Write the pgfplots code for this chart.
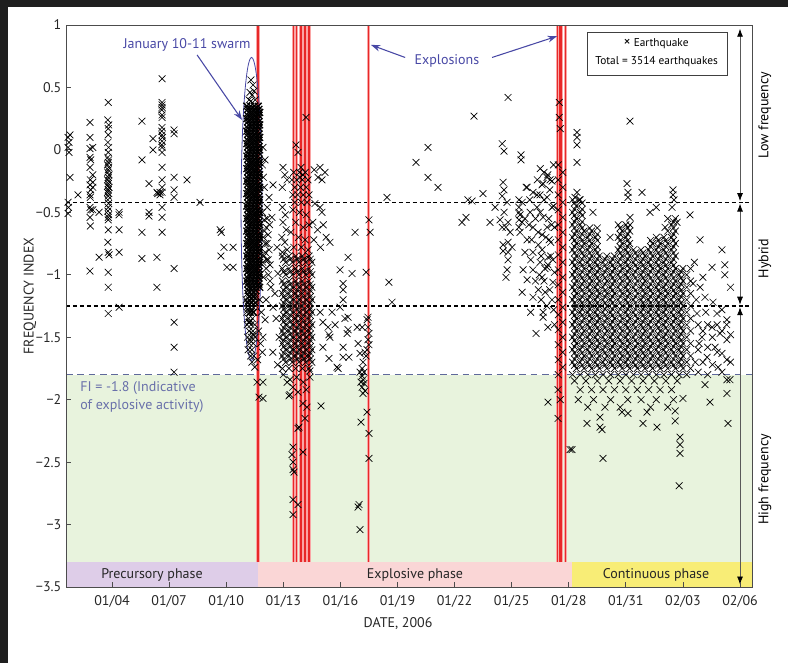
\documentclass[border=0pt]{standalone}
\usepackage{fontspec}
\setmainfont{PT Sans}
\usepackage{pgfplots}
\pgfplotsset{compat=1.18}
\usetikzlibrary{arrows.meta}

\definecolor{bg}{RGB}{232,243,221}
\definecolor{purp}{RGB}{222,205,232}
\definecolor{pinkb}{RGB}{250,214,214}
\definecolor{yel}{RGB}{248,237,118}
\definecolor{annot}{RGB}{72,72,165}
\definecolor{fitext}{RGB}{105,112,170}
\definecolor{fiblue}{RGB}{95,105,155}
\definecolor{exred}{RGB}{232,40,40}
\definecolor{exhalo}{RGB}{250,165,165}

\newcommand{\fs}{\fontsize{10.5}{13.5}\selectfont}
\newcommand{\fss}{\fontsize{8.5}{10}\selectfont}

\pgfplotsset{
  eq/.style={only marks, mark=x, mark size=3.6pt, black, mark options={line width=0.5pt}, forget plot},
  eqdense/.style={eq, mark options={line width=0.95pt}},
}

\begin{document}
\begin{tikzpicture}
\useasboundingbox (0pt,0pt) rectangle (591pt,497.25pt);
\fill[black!88] (0pt,492pt) rectangle (591pt,497.25pt);
\fill[black!88] (0pt,0pt) rectangle (6pt,497.25pt);
\begin{axis}[
  at={(49.5pt,57pt)}, anchor=south west,
  width=514.5pt, height=421.5pt, scale only axis,
  xmin=1.58, xmax=37.63, ymin=-3.5, ymax=1,
  axis on top, clip=false,
  axis line style={black!70, line width=0.7pt},
  tick align=inside, xtick pos=left, ytick pos=left,
  major tick length=3.5pt, tick style={black!70, line width=0.6pt},
  xtick={4,7,10,13,16,19,22,25,28,31,34,37},
  xticklabels={01/04,01/07,01/10,01/13,01/16,01/19,01/22,01/25,01/28,01/31,02/03,02/06},
  ytick={-3.5,-3,-2.5,-2,-1.5,-1,-0.5,0,0.5,1},
  yticklabels={−3.5,−3,−2.5,−2,−1.5,−1,−0.5,0,0.5,1},
  ticklabel style={font=\fs, text=black!85},
  xticklabel style={yshift=-3pt},
]
% backgrounds
\fill[bg] (axis cs:1.58,-3.3) rectangle (axis cs:37.63,-1.8);
\fill[purp] (axis cs:1.58,-3.5) rectangle (axis cs:11.672,-3.3);
\fill[pinkb] (axis cs:11.672,-3.5) rectangle (axis cs:28.17,-3.3);
\fill[yel] (axis cs:28.17,-3.5) rectangle (axis cs:37.63,-3.3);

% thresholds
\addplot[black, line width=1.1pt, dash pattern=on 3pt off 2.2pt, forget plot] coordinates {(1.58,-0.42) (37.63,-0.42)};
\addplot[black, line width=1.1pt, dash pattern=on 3pt off 2.2pt, forget plot] coordinates {(1.58,-1.25) (37.63,-1.25)};
\addplot[fiblue, line width=0.7pt, dash pattern=on 5pt off 3.5pt, forget plot] coordinates {(1.58,-1.8) (37.63,-1.8)};

% explosions
\pgfplotsinvokeforeach{11.672,13.53,13.70,13.93,14.14,14.35,17.468,27.40,27.50,27.59,27.84}{
  \addplot[exhalo, line width=2.6pt, forget plot] coordinates {(#1,-3.3) (#1,1)};
}
\pgfplotsinvokeforeach{11.672,13.53,13.70,13.93,14.14,14.35,17.468,27.40,27.50,27.59,27.84}{
  \addplot[exred, line width=1pt, forget plot] coordinates {(#1,-3.3) (#1,1)};
}

% precursory phase
\addplot[eq] coordinates {
(1.69,0.10)(1.74,0.06)(1.69,0.02)(1.74,-0.02)(1.79,0.12)(1.79,-0.22)(1.69,-0.42)(1.71,-0.46)(1.69,-0.51)(2.21,-0.36)
(2.84,0.22)(2.84,0.10)(2.84,0.01)(2.84,-0.06)(2.88,-0.08)(2.84,-0.14)(2.86,-0.24)(2.84,-0.28)(2.88,-0.32)(2.84,-0.36)
(2.86,-0.38)(2.84,-0.46)(2.88,-0.48)(2.84,-0.54)(2.86,-0.61)(2.84,-0.97)
(2.99,0.02)(2.99,-0.20)(2.99,-0.26)(2.99,-0.30)(2.99,-0.48)(3.32,-0.50)(3.32,-0.86)
(3.80,0.38)(3.78,0.24)(3.82,0.20)(3.80,0.17)(3.80,0.12)(3.78,0.06)(3.82,0.02)(3.80,-0.02)(3.78,-0.06)(3.82,-0.08)
(3.80,-0.10)(3.76,-0.12)(3.82,-0.14)(3.80,-0.16)(3.78,-0.18)(3.84,-0.20)(3.80,-0.22)(3.76,-0.24)(3.82,-0.25)(3.80,-0.27)
(3.78,-0.29)(3.84,-0.30)(3.80,-0.32)(3.76,-0.34)(3.82,-0.35)(3.80,-0.37)(3.78,-0.40)(3.82,-0.43)(3.80,-0.46)(3.78,-0.49)
(3.82,-0.52)(3.80,-0.54)(3.80,-0.56)(3.80,-0.64)(3.78,-0.74)(3.80,-0.82)(3.84,-0.84)(3.80,-0.98)(3.80,-1.10)(3.80,-1.31)
(4.37,-0.50)(4.37,-0.52)(4.37,-0.64)(4.37,-0.82)(4.37,-1.26)
(5.57,0.23)(5.57,-0.08)(5.57,-0.66)(5.57,-0.87)(5.94,-0.27)(5.94,-0.50)(5.94,-0.53)(6.15,0.09)(6.15,0.00)
(6.36,-0.34)(6.40,-0.35)(6.36,-0.86)(6.36,-1.10)(6.52,-0.34)(6.52,-0.36)
(6.63,0.57)(6.63,0.38)(6.63,0.36)(6.63,0.34)(6.61,0.32)(6.63,0.28)(6.63,0.26)(6.63,0.18)(6.61,0.15)(6.63,0.12)
(6.65,0.10)(6.63,0.07)(6.61,0.04)(6.63,0.02)(6.63,-0.02)(6.63,-0.14)(6.63,-0.24)(6.63,-0.30)(6.63,-0.34)(6.63,-0.46)
(6.63,-0.54)(6.63,-0.66)
(7.26,0.16)(7.26,0.13)(7.26,-0.22)(7.26,-0.32)(7.26,-0.38)(7.26,-0.95)(7.26,-1.38)(7.26,-1.58)(7.26,-1.78)
(7.94,-0.24)(8.62,-0.42)(9.68,-0.64)(9.74,-0.66)(9.88,-0.78)(9.72,-0.85)(10.04,-0.94)(10.36,-0.78)(10.36,-0.94)
};

% January 10-11 swarm, core
\addplot[eqdense] coordinates {
(11.08,0.35)(11.28,0.35)(11.48,0.35)(11.68,0.35)(11.18,0.30)(11.38,0.30)(11.58,0.30)(11.76,0.30)
(11.08,0.25)(11.28,0.25)(11.48,0.25)(11.68,0.25)(11.18,0.20)(11.38,0.20)(11.58,0.20)(11.76,0.20)
(11.08,0.15)(11.28,0.15)(11.48,0.15)(11.68,0.15)(11.18,0.10)(11.38,0.10)(11.58,0.10)(11.76,0.10)
(11.08,0.05)(11.28,0.05)(11.48,0.05)(11.68,0.05)(11.18,0.00)(11.38,0.00)(11.58,0.00)(11.76,0.00)
(11.08,-0.05)(11.28,-0.05)(11.48,-0.05)(11.68,-0.05)(11.18,-0.10)(11.38,-0.10)(11.58,-0.10)(11.76,-0.10)
(11.08,-0.15)(11.28,-0.15)(11.48,-0.15)(11.68,-0.15)(11.18,-0.20)(11.38,-0.20)(11.58,-0.20)(11.76,-0.20)
(11.08,-0.25)(11.28,-0.25)(11.48,-0.25)(11.68,-0.25)(11.18,-0.30)(11.38,-0.30)(11.58,-0.30)(11.76,-0.30)
(11.08,-0.35)(11.28,-0.35)(11.48,-0.35)(11.68,-0.35)(11.18,-0.40)(11.38,-0.40)(11.58,-0.40)(11.76,-0.40)
(11.08,-0.45)(11.28,-0.45)(11.48,-0.45)(11.68,-0.45)(11.18,-0.50)(11.38,-0.50)(11.58,-0.50)(11.76,-0.50)
(11.08,-0.55)(11.28,-0.55)(11.48,-0.55)(11.68,-0.55)(11.18,-0.60)(11.38,-0.60)(11.58,-0.60)(11.76,-0.60)
(11.08,-0.65)(11.28,-0.65)(11.48,-0.65)(11.68,-0.65)(11.18,-0.70)(11.38,-0.70)(11.58,-0.70)(11.76,-0.70)
(11.08,-0.75)(11.28,-0.75)(11.48,-0.75)(11.68,-0.75)(11.18,-0.80)(11.38,-0.80)(11.58,-0.80)(11.76,-0.80)
(11.08,-0.85)(11.28,-0.85)(11.48,-0.85)(11.68,-0.85)(11.18,-0.90)(11.38,-0.90)(11.58,-0.90)(11.76,-0.90)
(11.08,-0.95)(11.28,-0.95)(11.48,-0.95)(11.68,-0.95)(11.18,-1.00)(11.38,-1.00)(11.58,-1.00)(11.76,-1.00)
(11.08,-1.05)(11.28,-1.05)(11.48,-1.05)(11.68,-1.05)(11.18,-1.10)(11.38,-1.10)(11.58,-1.10)(11.76,-1.10)
(11.13,0.325)(11.33,0.325)(11.53,0.325)(11.72,0.325)(11.13,0.275)(11.33,0.275)(11.53,0.275)(11.72,0.275)
(11.13,0.225)(11.33,0.225)(11.53,0.225)(11.72,0.225)(11.13,0.175)(11.33,0.175)(11.53,0.175)(11.72,0.175)
(11.13,0.125)(11.33,0.125)(11.53,0.125)(11.72,0.125)(11.13,0.075)(11.33,0.075)(11.53,0.075)(11.72,0.075)
(11.13,0.025)(11.33,0.025)(11.53,0.025)(11.72,0.025)(11.13,-0.025)(11.33,-0.025)(11.53,-0.025)(11.72,-0.025)
(11.13,-0.075)(11.33,-0.075)(11.53,-0.075)(11.72,-0.075)(11.13,-0.125)(11.33,-0.125)(11.53,-0.125)(11.72,-0.125)
(11.13,-0.175)(11.33,-0.175)(11.53,-0.175)(11.72,-0.175)(11.13,-0.225)(11.33,-0.225)(11.53,-0.225)(11.72,-0.225)
(11.13,-0.275)(11.33,-0.275)(11.53,-0.275)(11.72,-0.275)(11.13,-0.325)(11.33,-0.325)(11.53,-0.325)(11.72,-0.325)
(11.13,-0.375)(11.33,-0.375)(11.53,-0.375)(11.72,-0.375)(11.13,-0.425)(11.33,-0.425)(11.53,-0.425)(11.72,-0.425)
(11.13,-0.475)(11.33,-0.475)(11.53,-0.475)(11.72,-0.475)(11.13,-0.525)(11.33,-0.525)(11.53,-0.525)(11.72,-0.525)
(11.13,-0.575)(11.33,-0.575)(11.53,-0.575)(11.72,-0.575)(11.13,-0.625)(11.33,-0.625)(11.53,-0.625)(11.72,-0.625)
(11.13,-0.675)(11.33,-0.675)(11.53,-0.675)(11.72,-0.675)(11.13,-0.725)(11.33,-0.725)(11.53,-0.725)(11.72,-0.725)
(11.13,-0.775)(11.33,-0.775)(11.53,-0.775)(11.72,-0.775)(11.13,-0.825)(11.33,-0.825)(11.53,-0.825)(11.72,-0.825)
(11.13,-0.875)(11.33,-0.875)(11.53,-0.875)(11.72,-0.875)(11.13,-0.925)(11.33,-0.925)(11.53,-0.925)(11.72,-0.925)
(11.13,-0.975)(11.33,-0.975)(11.53,-0.975)(11.72,-0.975)(11.13,-1.025)(11.33,-1.025)(11.53,-1.025)(11.72,-1.025)
(11.13,-1.075)(11.33,-1.075)(11.53,-1.075)(11.72,-1.075)
(11.15,-1.125)(11.35,-1.125)(11.55,-1.125)(11.22,-1.175)(11.45,-1.175)(11.12,-1.225)(11.32,-1.225)(11.52,-1.225)
(11.25,-1.30)(11.42,-1.30)(11.20,-1.38)
};

% January 10-11 swarm, edges
\addplot[eq] coordinates {
(11.30,0.56)(11.41,0.52)(11.25,0.46)(11.36,0.44)(11.46,0.47)(11.20,0.40)(11.30,0.39)(11.52,0.40)
(11.12,-1.15)(11.32,-1.15)(11.52,-1.15)(11.05,-1.20)(11.22,-1.20)(11.42,-1.20)(11.75,-1.20)
(11.15,-1.25)(11.35,-1.25)(11.55,-1.25)(11.08,-1.30)(11.28,-1.30)(11.45,-1.30)(11.85,-1.30)
(11.18,-1.35)(11.38,-1.35)(11.10,-1.40)(11.30,-1.40)(11.50,-1.40)(11.20,-1.45)(11.40,-1.45)(11.70,-1.45)
(11.12,-1.50)(11.32,-1.50)(11.52,-1.50)(11.22,-1.55)(11.42,-1.55)(11.80,-1.55)(11.15,-1.60)(11.35,-1.60)
(11.28,-1.65)(11.45,-1.65)(11.90,-1.62)(11.65,-1.68)(11.35,-1.70)(11.50,-1.74)
(11.18,-1.175)(11.38,-1.175)(11.58,-1.175)(11.13,-1.275)(11.33,-1.275)(11.25,-1.375)(11.42,-1.475)(11.25,-1.525)
(11.90,-0.50)(12.00,-0.56)(12.10,-0.62)(12.20,-0.68)(11.95,-0.70)(12.15,-0.75)(12.25,-0.80)(12.05,-0.82)
(12.20,-0.88)(11.92,-0.90)(12.10,-0.95)(12.22,-1.00)(11.95,-1.02)(12.28,-0.60)(12.15,-0.55)(12.00,-0.65)
(12.05,-0.75)(11.98,-0.85)(12.12,-0.88)(12.30,-0.92)
(11.93,0.02)(12.04,-0.08)(12.46,-0.28)(12.25,-0.38)(12.15,-0.46)(12.40,-0.54)(11.95,-0.22)(12.00,-0.30)
(11.90,-0.12)(12.35,-1.10)(12.10,-1.20)(12.46,-1.26)(12.04,-1.36)(11.93,-1.50)
(11.62,-1.86)(11.93,-1.86)(11.72,-1.98)(11.93,-1.99)
(12.67,-0.78)(12.30,-1.05)(12.72,-0.99)(12.56,-1.15)(12.62,-1.35)(12.78,-1.50)(12.45,-1.62)(12.70,-1.72)
};

% January 13-17
\addplot[eq] coordinates {
(13.67,0.04)(13.77,-0.02)(14.19,0.26)(13.93,-0.14)(14.03,-0.20)(13.88,-0.22)
(13.55,-0.18)(13.85,-0.18)(14.15,-0.18)(13.45,-0.24)(13.70,-0.24)(14.00,-0.24)(14.30,-0.24)
(13.60,-0.30)(13.90,-0.30)(14.20,-0.30)(13.50,-0.36)(13.75,-0.36)(14.05,-0.36)(14.35,-0.36)
(13.60,-0.42)(13.95,-0.42)(14.25,-0.42)
(12.98,-0.14)(13.08,-0.20)(13.20,-0.24)(12.95,-0.30)
(14.62,-0.16)(14.93,-0.14)(15.19,-0.18)(14.82,-0.22)(15.03,-0.24)(14.66,-0.43)(14.93,-0.46)(15.03,-0.50)
(12.95,-0.46)(13.10,-0.52)(12.98,-0.58)(13.15,-0.64)(12.92,-0.70)(13.08,-0.74)(13.20,-0.80)(12.95,-0.82)
(13.50,-0.48)(13.85,-0.50)(14.20,-0.52)(13.65,-0.58)(14.05,-0.62)(14.35,-0.60)(13.40,-0.66)(13.80,-0.70)
(14.15,-0.72)(13.55,-0.78)(13.95,-0.78)(14.30,-0.80)
(14.55,-0.58)(14.80,-0.64)(15.10,-0.60)(14.60,-0.72)(14.95,-0.78)(15.25,-0.70)
(12.95,-0.85)(13.30,-0.85)(13.65,-0.85)(14.00,-0.85)(14.35,-0.85)
(13.12,-0.90)(13.47,-0.90)(13.82,-0.90)(14.17,-0.90)(14.50,-0.90)
(12.95,-0.95)(13.30,-0.95)(13.65,-0.95)(14.00,-0.95)(14.35,-0.95)
(13.12,-1.00)(13.47,-1.00)(13.82,-1.00)(14.17,-1.00)(14.50,-1.00)
(12.95,-1.05)(13.30,-1.05)(13.65,-1.05)(14.00,-1.05)(14.35,-1.05)
(13.12,-1.10)(13.47,-1.10)(13.82,-1.10)(14.17,-1.10)(14.50,-1.10)
(12.95,-1.15)(13.30,-1.15)(13.65,-1.15)(14.00,-1.15)(14.35,-1.15)
(13.12,-1.20)(13.47,-1.20)(13.82,-1.20)(14.17,-1.20)(14.50,-1.20)
(12.95,-1.25)(13.30,-1.25)(13.65,-1.25)(14.00,-1.25)(14.35,-1.25)
(13.12,-1.30)(13.47,-1.30)(13.82,-1.30)(14.17,-1.30)(14.50,-1.30)
(12.95,-1.35)(13.30,-1.35)(13.65,-1.35)(14.00,-1.35)(14.35,-1.35)
(13.12,-1.40)(13.47,-1.40)(13.82,-1.40)(14.17,-1.40)(14.50,-1.40)
(12.95,-1.45)(13.30,-1.45)(13.65,-1.45)(14.00,-1.45)(14.35,-1.45)
(13.12,-1.50)(13.47,-1.50)(13.82,-1.50)(14.17,-1.50)(14.50,-1.50)
(12.95,-1.55)(13.30,-1.55)(13.65,-1.55)(14.00,-1.55)(14.35,-1.55)
(13.12,-1.60)(13.47,-1.60)(13.82,-1.60)(14.17,-1.60)(14.50,-1.60)
(12.95,-1.65)(13.30,-1.65)(13.65,-1.65)(14.00,-1.65)(14.35,-1.65)
(13.12,-1.70)(13.47,-1.70)(13.82,-1.70)(14.17,-1.70)(14.50,-1.70)
(12.95,-1.75)(13.30,-1.75)(13.65,-1.75)(14.00,-1.75)(14.35,-1.75)
(13.02,-0.875)(13.38,-0.875)(13.73,-0.875)(14.08,-0.875)(14.42,-0.875)
(13.02,-0.975)(13.38,-0.975)(13.73,-0.975)(14.08,-0.975)(14.42,-0.975)
(13.02,-1.075)(13.38,-1.075)(13.73,-1.075)(14.08,-1.075)(14.42,-1.075)
(13.02,-1.125)(13.38,-1.125)(13.73,-1.125)(14.08,-1.125)(14.42,-1.125)
(13.02,-1.175)(13.38,-1.175)(13.73,-1.175)(14.08,-1.175)(14.42,-1.175)
(13.02,-1.225)(13.38,-1.225)(13.73,-1.225)(14.08,-1.225)(14.42,-1.225)
(13.02,-1.275)(13.38,-1.275)(13.73,-1.275)(14.08,-1.275)(14.42,-1.275)
(13.02,-1.325)(13.38,-1.325)(13.73,-1.325)(14.08,-1.325)(14.42,-1.325)
(13.02,-1.375)(13.38,-1.375)(13.73,-1.375)(14.08,-1.375)(14.42,-1.375)
(13.02,-1.425)(13.38,-1.425)(13.73,-1.425)(14.08,-1.425)(14.42,-1.425)
(13.02,-1.475)(13.38,-1.475)(13.73,-1.475)(14.08,-1.475)(14.42,-1.475)
(13.02,-1.525)(13.38,-1.525)(13.73,-1.525)(14.08,-1.525)(14.42,-1.525)
(13.02,-1.575)(13.38,-1.575)(13.73,-1.575)(14.08,-1.575)(14.42,-1.575)
(13.02,-1.625)(13.38,-1.625)(13.73,-1.625)(14.08,-1.625)(14.42,-1.625)
(13.02,-1.675)(13.38,-1.675)(13.73,-1.675)(14.08,-1.675)(14.42,-1.675)
(13.00,-1.80)(13.35,-1.84)(13.70,-1.82)(14.05,-1.86)(14.40,-1.82)(13.50,-1.90)(14.20,-1.92)
(15.45,-0.74)(16.40,-0.86)(16.77,-0.66)(15.98,-0.96)(16.14,-1.12)(16.14,-1.20)(16.40,-1.34)(16.40,-1.44)
(16.88,-1.42)(16.93,-1.55)(17.03,-1.63)(16.14,-1.58)(15.45,-1.50)(15.08,-1.58)(15.35,-1.42)(16.61,-0.99)
(14.93,-1.30)(15.56,-1.30)(15.98,-1.26)(15.08,-1.38)(15.72,-1.40)(16.24,-1.35)(15.40,-1.48)(16.35,-1.47)
(16.14,-1.66)(15.40,-1.67)(15.88,-1.75)(16.45,-1.66)(14.40,-1.77)(15.82,-1.74)(14.98,-2.05)(16.14,-1.07)
(13.30,-1.97)(13.77,-1.94)(14.03,-2.03)(14.24,-2.06)(14.14,-2.15)(13.77,-2.23)(13.82,-2.22)(14.03,-2.42)
(13.51,-2.38)(13.46,-2.44)(13.51,-2.50)(13.51,-2.56)(13.56,-2.58)(13.51,-2.80)(13.77,-2.84)(13.51,-2.92)
(13.35,-1.96)(13.20,-1.86)
(17.50,-0.56)(17.56,-0.66)(17.35,-0.98)(17.45,-1.34)(17.45,-1.42)(17.50,-1.47)(17.45,-1.52)(17.50,-1.56)
(17.40,-1.60)(17.14,-1.42)(17.40,-1.36)(17.29,-1.62)(17.35,-1.65)
(17.19,-1.70)(17.14,-1.75)(17.24,-1.78)(17.14,-1.81)(17.19,-1.84)(17.24,-1.87)(17.14,-1.90)(17.29,-1.93)
(17.19,-1.95)(17.03,-1.78)(17.08,-1.86)
(17.40,-2.10)(17.08,-2.18)(17.50,-2.27)(17.50,-2.47)(16.93,-2.86)(16.98,-2.84)(17.03,-3.04)
};

% January 18-28
\addplot[eq] coordinates {
(18.45,-0.38)(18.55,-1.06)(18.71,-1.22)(19.97,-0.10)(20.60,0.02)(20.60,-0.22)(21.13,-0.30)(23.02,0.27)
(24.81,0.42)(24.50,0.05)(24.60,-0.01)(25.49,-0.04)(25.49,-0.08)(22.70,-0.40)
(22.39,-0.58)(22.60,-0.54)(22.92,-0.41)(23.49,-0.35)(23.86,-0.58)(24.13,-0.46)(24.55,-0.26)(24.60,-0.32)
(24.50,-0.37)(24.76,-0.42)(24.60,-0.50)(24.81,-0.58)(24.50,-0.62)(24.55,-0.81)(24.81,-0.82)(24.81,-0.88)
(24.76,-0.96)(24.70,-1.02)(24.39,-0.56)(24.70,-0.62)(24.92,-0.66)(24.81,-0.74)(24.55,-0.76)(25.02,-0.78)
(26.70,-0.18)(26.86,-0.22)(27.12,-0.25)(25.76,-0.30)(26.12,-0.34)(26.49,-0.36)(26.86,-0.38)(25.55,-0.42)
(26.33,-0.46)(27.12,-0.46)(25.44,-0.52)(25.97,-0.50)(26.65,-0.54)(25.55,-0.58)(26.12,-0.62)(26.86,-0.62)
(25.44,-0.66)(25.81,-0.72)(26.39,-0.66)(26.97,-0.72)(25.70,-0.82)(26.12,-0.82)(26.60,-0.80)(26.91,-0.86)
(27.17,-0.88)(26.00,-0.88)(26.49,-0.90)(26.86,-0.94)(25.60,-0.96)(26.12,-0.96)(26.60,-1.02)(25.81,-1.04)
(27.17,-1.06)(25.55,-1.14)(26.12,-1.18)(26.76,-1.14)(26.00,-1.30)(26.65,-1.34)(26.28,-1.47)(27.12,-1.20)
(25.38,-0.40)(25.38,-0.46)(25.38,-0.50)(25.38,-0.56)(25.38,-0.62)
(26.65,-0.27)(27.02,-0.24)(25.81,-0.30)(26.33,-0.36)
(26.50,-0.15)(26.90,-0.20)(27.20,-0.12)(26.60,-0.28)(27.00,-0.32)(26.70,-0.40)(27.20,-0.45)(26.50,-0.50)
(26.95,-0.55)(27.25,-0.62)(26.60,-0.68)(27.05,-0.74)(26.55,-0.85)(26.90,-0.92)(27.25,-0.98)(26.70,-1.05)
(27.00,-1.12)(26.55,-1.20)(26.65,-1.30)(27.20,-1.28)(26.90,-1.42)
(26.25,-0.55)(25.90,-0.60)(26.40,-0.76)(26.80,-0.70)(26.25,-1.05)(26.40,-1.12)(25.95,-0.40)(26.35,-0.24)
(27.10,-0.60)(26.75,-0.95)(25.70,-0.55)(26.05,-0.72)(27.05,-0.85)(26.45,-1.00)(26.85,-1.25)(27.25,-1.40)
(27.50,0.38)(27.50,0.26)(27.55,0.17)
(27.45,-0.12)(27.45,-0.24)(27.45,-0.36)(27.45,-0.48)(27.45,-0.60)(27.45,-0.72)(27.45,-0.84)(27.45,-0.96)
(27.45,-1.08)(27.45,-1.20)(27.45,-1.32)(27.45,-1.44)(27.45,-1.56)(27.45,-1.68)(27.45,-1.80)
(27.68,-0.18)(27.68,-0.30)(27.68,-0.42)(27.68,-0.54)(27.68,-0.66)(27.68,-0.78)(27.68,-0.90)(27.68,-1.02)
(27.68,-1.14)(27.68,-1.26)(27.68,-1.38)(27.68,-1.50)(27.68,-1.62)(27.68,-1.74)
(27.44,-1.92)(27.55,-2.00)(27.44,-2.15)(26.91,-2.02)
};

% continuous phase
\addplot[eq] coordinates {
(28.43,0.14)(28.43,0.10)(28.43,0.04)(28.43,-0.10)(28.43,-0.34)(28.33,-0.38)(28.55,-0.40)(31.06,-0.27)
(31.11,-0.34)(31.11,-0.38)(31.85,-0.34)(33.48,-0.32)(33.48,-0.36)(33.53,-0.40)(33.43,-0.46)(34.37,-0.52)
(33.06,-0.62)(33.69,-0.58)(32.27,-0.50)(32.60,-0.46)(31.22,0.23)(29.27,-0.50)(30.17,-0.70)(31.22,-0.54)
(31.22,-0.60)(34.90,-0.72)(36.05,-0.80)
(28.2,-0.40)(28.6,-0.40)(28.4,-0.45)(28.2,-0.50)(28.6,-0.50)(28.4,-0.55)(33.2,-0.55)(33.6,-0.55)
(28.2,-0.60)(28.6,-0.60)(30.6,-0.60)(31.0,-0.60)(33.4,-0.60)
(28.4,-0.65)(28.8,-0.65)(29.2,-0.65)(30.8,-0.65)(31.2,-0.65)(33.2,-0.65)(33.6,-0.65)
(28.2,-0.70)(28.6,-0.70)(29.0,-0.70)(29.4,-0.70)(30.6,-0.70)(31.0,-0.70)(32.6,-0.70)(33.0,-0.70)(33.4,-0.70)
(28.4,-0.75)(28.8,-0.75)(29.2,-0.75)(30.8,-0.75)(31.2,-0.75)(32.4,-0.75)(32.8,-0.75)(33.2,-0.75)(33.6,-0.75)
(28.2,-0.80)(28.6,-0.80)(29.0,-0.80)(29.4,-0.80)(30.6,-0.80)(31.0,-0.80)(31.4,-0.80)(31.8,-0.80)(32.2,-0.80)
(32.6,-0.80)(33.0,-0.80)(33.4,-0.80)
(28.4,-0.85)(28.8,-0.85)(29.2,-0.85)(29.6,-0.85)(30.0,-0.85)(30.4,-0.85)(30.8,-0.85)(31.2,-0.85)(31.6,-0.85)
(32.0,-0.85)(32.4,-0.85)(32.8,-0.85)(33.2,-0.85)(33.6,-0.85)
(28.2,-0.90)(28.6,-0.90)(29.0,-0.90)(29.4,-0.90)(29.8,-0.90)(30.2,-0.90)(30.6,-0.90)(31.0,-0.90)(31.4,-0.90)
(31.8,-0.90)(32.2,-0.90)(32.6,-0.90)(33.0,-0.90)(33.4,-0.90)
(28.4,-0.95)(28.8,-0.95)(29.2,-0.95)(29.6,-0.95)(30.0,-0.95)(30.4,-0.95)(30.8,-0.95)(31.2,-0.95)(31.6,-0.95)
(32.0,-0.95)(32.4,-0.95)(32.8,-0.95)(33.2,-0.95)(33.6,-0.95)(34.0,-0.95)(34.4,-0.95)
(28.2,-1.00)(28.6,-1.00)(29.0,-1.00)(29.4,-1.00)(29.8,-1.00)(30.2,-1.00)(30.6,-1.00)(31.0,-1.00)(31.4,-1.00)
(31.8,-1.00)(32.2,-1.00)(32.6,-1.00)(33.0,-1.00)(33.4,-1.00)(33.8,-1.00)(34.2,-1.00)
(28.4,-1.05)(28.8,-1.05)(29.2,-1.05)(29.6,-1.05)(30.0,-1.05)(30.4,-1.05)(30.8,-1.05)(31.2,-1.05)(31.6,-1.05)
(32.0,-1.05)(32.4,-1.05)(32.8,-1.05)(33.2,-1.05)(33.6,-1.05)(34.0,-1.05)(34.4,-1.05)
(28.2,-1.10)(28.6,-1.10)(29.0,-1.10)(29.4,-1.10)(29.8,-1.10)(30.2,-1.10)(30.6,-1.10)(31.0,-1.10)(31.4,-1.10)
(31.8,-1.10)(32.2,-1.10)(32.6,-1.10)(33.0,-1.10)(33.4,-1.10)(33.8,-1.10)(34.2,-1.10)
(28.4,-1.15)(28.8,-1.15)(29.2,-1.15)(29.6,-1.15)(30.0,-1.15)(30.4,-1.15)(30.8,-1.15)(31.2,-1.15)(31.6,-1.15)
(32.0,-1.15)(32.4,-1.15)(32.8,-1.15)(33.2,-1.15)(33.6,-1.15)(34.0,-1.15)(34.4,-1.15)
(28.2,-1.20)(28.6,-1.20)(29.0,-1.20)(29.4,-1.20)(29.8,-1.20)(30.2,-1.20)(30.6,-1.20)(31.0,-1.20)(31.4,-1.20)
(31.8,-1.20)(32.2,-1.20)(32.6,-1.20)(33.0,-1.20)(33.4,-1.20)(33.8,-1.20)(34.2,-1.20)
(28.4,-1.25)(28.8,-1.25)(29.2,-1.25)(29.6,-1.25)(30.0,-1.25)(30.4,-1.25)(30.8,-1.25)(31.2,-1.25)(31.6,-1.25)
(32.0,-1.25)(32.4,-1.25)(32.8,-1.25)(33.2,-1.25)(33.6,-1.25)(34.0,-1.25)(34.4,-1.25)
(28.2,-1.30)(28.6,-1.30)(29.0,-1.30)(29.4,-1.30)(29.8,-1.30)(30.2,-1.30)(30.6,-1.30)(31.0,-1.30)(31.4,-1.30)
(31.8,-1.30)(32.2,-1.30)(32.6,-1.30)(33.0,-1.30)(33.4,-1.30)(33.8,-1.30)(34.2,-1.30)
(28.4,-1.35)(28.8,-1.35)(29.2,-1.35)(29.6,-1.35)(30.0,-1.35)(30.4,-1.35)(30.8,-1.35)(31.2,-1.35)(31.6,-1.35)
(32.0,-1.35)(32.4,-1.35)(32.8,-1.35)(33.2,-1.35)(33.6,-1.35)(34.0,-1.35)(34.4,-1.35)
(28.2,-1.40)(28.6,-1.40)(29.0,-1.40)(29.4,-1.40)(29.8,-1.40)(30.2,-1.40)(30.6,-1.40)(31.0,-1.40)(31.4,-1.40)
(31.8,-1.40)(32.2,-1.40)(32.6,-1.40)(33.0,-1.40)(33.4,-1.40)(33.8,-1.40)(34.2,-1.40)
(28.4,-1.45)(28.8,-1.45)(29.2,-1.45)(29.6,-1.45)(30.0,-1.45)(30.4,-1.45)(30.8,-1.45)(31.2,-1.45)(31.6,-1.45)
(32.0,-1.45)(32.4,-1.45)(32.8,-1.45)(33.2,-1.45)(33.6,-1.45)(34.0,-1.45)(34.4,-1.45)
(28.2,-1.50)(28.6,-1.50)(29.0,-1.50)(29.4,-1.50)(29.8,-1.50)(30.2,-1.50)(30.6,-1.50)(31.0,-1.50)(31.4,-1.50)
(31.8,-1.50)(32.2,-1.50)(32.6,-1.50)(33.0,-1.50)(33.4,-1.50)(33.8,-1.50)(34.2,-1.50)
(28.4,-1.55)(28.8,-1.55)(29.2,-1.55)(29.6,-1.55)(30.0,-1.55)(30.4,-1.55)(30.8,-1.55)(31.2,-1.55)(31.6,-1.55)
(32.0,-1.55)(32.4,-1.55)(32.8,-1.55)(33.2,-1.55)(33.6,-1.55)(34.0,-1.55)(34.4,-1.55)
(28.2,-1.60)(28.6,-1.60)(29.0,-1.60)(29.4,-1.60)(29.8,-1.60)(30.2,-1.60)(30.6,-1.60)(31.0,-1.60)(31.4,-1.60)
(31.8,-1.60)(32.2,-1.60)(32.6,-1.60)(33.0,-1.60)(33.4,-1.60)(33.8,-1.60)(34.2,-1.60)
(28.4,-1.65)(28.8,-1.65)(29.2,-1.65)(29.6,-1.65)(30.0,-1.65)(30.4,-1.65)(30.8,-1.65)(31.2,-1.65)(31.6,-1.65)
(32.0,-1.65)(32.4,-1.65)(32.8,-1.65)(33.2,-1.65)(33.6,-1.65)(34.0,-1.65)(34.4,-1.65)
(28.2,-1.70)(28.6,-1.70)(29.0,-1.70)(29.4,-1.70)(29.8,-1.70)(30.2,-1.70)(30.6,-1.70)(31.0,-1.70)(31.4,-1.70)
(31.8,-1.70)(32.2,-1.70)(32.6,-1.70)(33.0,-1.70)(33.4,-1.70)(33.8,-1.70)(34.2,-1.70)
(28.4,-1.75)(28.8,-1.75)(29.2,-1.75)(29.6,-1.75)(30.0,-1.75)(30.4,-1.75)(30.8,-1.75)(31.2,-1.75)(31.6,-1.75)
(32.0,-1.75)(32.4,-1.75)(32.8,-1.75)(33.2,-1.75)(33.6,-1.75)(34.0,-1.75)(34.4,-1.75)
(28.2,-1.80)(28.6,-1.80)(29.0,-1.80)(29.4,-1.80)(29.8,-1.80)(30.2,-1.80)(30.6,-1.80)(31.0,-1.80)(31.4,-1.80)
(31.8,-1.80)(32.2,-1.80)(32.6,-1.80)(33.0,-1.80)(33.4,-1.80)(33.8,-1.80)(34.2,-1.80)
(36.20,-0.92)(36.20,-1.00)(35.53,-0.94)(35.05,-1.02)(34.53,-1.07)(35.16,-1.18)(35.58,-1.22)(35.79,-1.31)
(36.05,-1.28)(36.31,-1.36)(35.53,-1.42)(35.95,-1.47)(36.31,-1.52)(35.69,-1.58)(36.05,-1.63)(36.31,-1.68)
(35.85,-1.74)(34.74,-1.31)(35.27,-1.66)(36.31,-1.84)(36.05,-1.78)(35.00,-1.50)(34.90,-1.10)(36.50,-1.10)
(34.80,-1.40)(35.30,-1.40)(35.80,-1.40)(36.30,-1.40)(35.05,-1.45)(35.55,-1.50)(36.05,-1.45)(36.50,-1.48)
(34.80,-1.60)(35.30,-1.58)(35.80,-1.62)(35.05,-1.70)(35.55,-1.72)(36.50,-1.70)(34.80,-1.78)(35.30,-1.80)
(34.70,-1.20)(34.85,-1.55)(34.65,-1.70)(35.20,-1.30)(34.60,-0.90)
(28.3,-1.85)(28.9,-1.85)(29.5,-1.85)(30.1,-1.85)(30.7,-1.85)(31.3,-1.85)(31.9,-1.85)(32.5,-1.85)(33.1,-1.85)(33.7,-1.85)
(28.6,-1.92)(29.2,-1.92)(29.8,-1.92)(30.4,-1.92)(31.0,-1.92)(31.6,-1.92)(32.2,-1.92)(32.8,-1.92)(33.4,-1.92)
(28.5,-2.00)(29.3,-2.00)(30.2,-2.00)(31.1,-2.00)(31.8,-2.00)(32.6,-2.00)(33.5,-2.00)
(29.0,-2.06)(29.9,-2.06)(30.7,-2.06)(32.3,-2.06)(33.2,-2.06)
(28.17,-2.40)(28.96,-2.19)(29.64,-2.22)(29.75,-2.24)(29.80,-2.47)(29.64,-2.14)(30.80,-2.10)(31.11,-2.11)
(31.90,-2.19)(32.11,-2.10)(32.64,-2.22)(33.59,-2.09)(33.59,-2.17)(33.85,-2.30)(33.85,-2.36)(33.85,-2.43)
(33.80,-2.69)(34.00,-1.99)(35.16,-1.88)(35.42,-2.02)(36.31,-1.95)(36.37,-2.19)(36.47,-1.84)(28.07,-2.40)
};

% continuous phase, densest part
\addplot[eq] coordinates {
(28.3,-0.425)(28.7,-0.425)(28.3,-0.475)(28.7,-0.475)(28.3,-0.525)(28.7,-0.525)(28.3,-0.575)(28.7,-0.575)(33.5,-0.575)
(28.3,-0.625)(28.7,-0.625)(29.1,-0.625)(29.5,-0.625)(30.7,-0.625)(31.1,-0.625)(33.5,-0.625)
(28.3,-0.675)(28.7,-0.675)(29.1,-0.675)(29.5,-0.675)(30.7,-0.675)(31.1,-0.675)(33.5,-0.675)
(28.3,-0.725)(28.7,-0.725)(29.1,-0.725)(29.5,-0.725)(30.7,-0.725)(31.1,-0.725)(32.3,-0.725)(32.7,-0.725)(33.1,-0.725)(33.5,-0.725)
(28.3,-0.775)(28.7,-0.775)(29.1,-0.775)(29.5,-0.775)(30.7,-0.775)(31.1,-0.775)(32.3,-0.775)(32.7,-0.775)(33.1,-0.775)(33.5,-0.775)
(28.3,-0.825)(28.7,-0.825)(29.1,-0.825)(29.5,-0.825)(30.7,-0.825)(31.1,-0.825)(31.5,-0.825)(31.9,-0.825)(32.3,-0.825)(32.7,-0.825)(33.1,-0.825)(33.5,-0.825)
(28.3,-0.875)(28.7,-0.875)(29.1,-0.875)(29.5,-0.875)(29.9,-0.875)(30.3,-0.875)(30.7,-0.875)(31.1,-0.875)(31.5,-0.875)(31.9,-0.875)(32.3,-0.875)(32.7,-0.875)(33.1,-0.875)(33.5,-0.875)
(28.3,-0.925)(28.7,-0.925)(29.1,-0.925)(29.5,-0.925)(29.9,-0.925)(30.3,-0.925)(30.7,-0.925)(31.1,-0.925)(31.5,-0.925)(31.9,-0.925)(32.3,-0.925)(32.7,-0.925)(33.1,-0.925)(33.5,-0.925)
(28.3,-0.975)(28.7,-0.975)(29.1,-0.975)(29.5,-0.975)(29.9,-0.975)(30.3,-0.975)(30.7,-0.975)(31.1,-0.975)(31.5,-0.975)(31.9,-0.975)(32.3,-0.975)(32.7,-0.975)(33.1,-0.975)(33.5,-0.975)(33.9,-0.975)
(28.3,-1.025)(28.7,-1.025)(29.1,-1.025)(29.5,-1.025)(29.9,-1.025)(30.3,-1.025)(30.7,-1.025)(31.1,-1.025)(31.5,-1.025)(31.9,-1.025)(32.3,-1.025)(32.7,-1.025)(33.1,-1.025)(33.5,-1.025)(33.9,-1.025)
(28.3,-1.075)(28.7,-1.075)(29.1,-1.075)(29.5,-1.075)(29.9,-1.075)(30.3,-1.075)(30.7,-1.075)(31.1,-1.075)(31.5,-1.075)(31.9,-1.075)(32.3,-1.075)(32.7,-1.075)(33.1,-1.075)(33.5,-1.075)(33.9,-1.075)
(28.3,-1.125)(28.7,-1.125)(29.1,-1.125)(29.5,-1.125)(29.9,-1.125)(30.3,-1.125)(30.7,-1.125)(31.1,-1.125)(31.5,-1.125)(31.9,-1.125)(32.3,-1.125)(32.7,-1.125)(33.1,-1.125)(33.5,-1.125)(33.9,-1.125)
(28.3,-1.175)(28.7,-1.175)(29.1,-1.175)(29.5,-1.175)(29.9,-1.175)(30.3,-1.175)(30.7,-1.175)(31.1,-1.175)(31.5,-1.175)(31.9,-1.175)(32.3,-1.175)(32.7,-1.175)(33.1,-1.175)(33.5,-1.175)(33.9,-1.175)
(28.3,-1.225)(28.7,-1.225)(29.1,-1.225)(29.5,-1.225)(29.9,-1.225)(30.3,-1.225)(30.7,-1.225)(31.1,-1.225)(31.5,-1.225)(31.9,-1.225)(32.3,-1.225)(32.7,-1.225)(33.1,-1.225)(33.5,-1.225)(33.9,-1.225)
(28.3,-1.275)(28.7,-1.275)(29.1,-1.275)(29.5,-1.275)(29.9,-1.275)(30.3,-1.275)(30.7,-1.275)(31.1,-1.275)(31.5,-1.275)(31.9,-1.275)(32.3,-1.275)(32.7,-1.275)(33.1,-1.275)(33.5,-1.275)(33.9,-1.275)
(28.3,-1.325)(28.7,-1.325)(29.1,-1.325)(29.5,-1.325)(29.9,-1.325)(30.3,-1.325)(30.7,-1.325)(31.1,-1.325)(31.5,-1.325)(31.9,-1.325)(32.3,-1.325)(32.7,-1.325)(33.1,-1.325)(33.5,-1.325)(33.9,-1.325)
(28.3,-1.375)(28.7,-1.375)(29.1,-1.375)(29.5,-1.375)(29.9,-1.375)(30.3,-1.375)(30.7,-1.375)(31.1,-1.375)(31.5,-1.375)(31.9,-1.375)(32.3,-1.375)(32.7,-1.375)(33.1,-1.375)(33.5,-1.375)(33.9,-1.375)
(28.3,-1.425)(28.7,-1.425)(29.1,-1.425)(29.5,-1.425)(29.9,-1.425)(30.3,-1.425)(30.7,-1.425)(31.1,-1.425)(31.5,-1.425)(31.9,-1.425)(32.3,-1.425)(32.7,-1.425)(33.1,-1.425)(33.5,-1.425)(33.9,-1.425)
(28.3,-1.475)(28.7,-1.475)(29.1,-1.475)(29.5,-1.475)(29.9,-1.475)(30.3,-1.475)(30.7,-1.475)(31.1,-1.475)(31.5,-1.475)(31.9,-1.475)(32.3,-1.475)(32.7,-1.475)(33.1,-1.475)(33.5,-1.475)(33.9,-1.475)
(28.3,-1.525)(28.7,-1.525)(29.1,-1.525)(29.5,-1.525)(29.9,-1.525)(30.3,-1.525)(30.7,-1.525)(31.1,-1.525)(31.5,-1.525)(31.9,-1.525)(32.3,-1.525)(32.7,-1.525)(33.1,-1.525)(33.5,-1.525)(33.9,-1.525)
(28.3,-1.575)(28.7,-1.575)(29.1,-1.575)(29.5,-1.575)(29.9,-1.575)(30.3,-1.575)(30.7,-1.575)(31.1,-1.575)(31.5,-1.575)(31.9,-1.575)(32.3,-1.575)(32.7,-1.575)(33.1,-1.575)(33.5,-1.575)(33.9,-1.575)
(28.3,-1.625)(28.7,-1.625)(29.1,-1.625)(29.5,-1.625)(29.9,-1.625)(30.3,-1.625)(30.7,-1.625)(31.1,-1.625)(31.5,-1.625)(31.9,-1.625)(32.3,-1.625)(32.7,-1.625)(33.1,-1.625)(33.5,-1.625)(33.9,-1.625)
(28.3,-1.675)(28.7,-1.675)(29.1,-1.675)(29.5,-1.675)(29.9,-1.675)(30.3,-1.675)(30.7,-1.675)(31.1,-1.675)(31.5,-1.675)(31.9,-1.675)(32.3,-1.675)(32.7,-1.675)(33.1,-1.675)(33.5,-1.675)(33.9,-1.675)
(28.3,-1.725)(28.7,-1.725)(29.1,-1.725)(29.5,-1.725)(29.9,-1.725)(30.3,-1.725)(30.7,-1.725)(31.1,-1.725)(31.5,-1.725)(31.9,-1.725)(32.3,-1.725)(32.7,-1.725)(33.1,-1.725)(33.5,-1.725)(33.9,-1.725)
};

% annotations
\draw[annot, line width=0.6pt] (axis cs:11.33,-0.473) ellipse [x radius=0.55, y radius=1.213];
\node[annot, font=\fs] at (axis cs:7.94,0.84) {January 10-11 swarm};
\draw[annot, line width=0.8pt, -{Stealth[length=7pt,width=5pt]}] (axis cs:8.47,0.76) -- (axis cs:10.83,0.24);
\node[annot, font=\fs] at (axis cs:21.6,0.71) {Explosions};
\draw[annot, line width=0.8pt, -{Stealth[length=7pt,width=5pt]}] (axis cs:19.4,0.74) -- (axis cs:17.61,0.84);
\draw[annot, line width=0.8pt, -{Stealth[length=7pt,width=5pt]}] (axis cs:23.97,0.74) -- (axis cs:27.38,0.91);
\node[fitext, font=\fs, anchor=north west, align=left, inner sep=1pt] at (axis cs:2.25,-1.84) {FI = -1.8 (Indicative\\of explosive activity)};

% legend box
\draw[black!75, line width=0.6pt, fill=white] (axis cs:28.96,0.94) rectangle (axis cs:36.32,0.60);
\node[font=\fss] at (axis cs:32.59,0.85) {{\fontsize{10.5}{10}\selectfont ×} Earthquake};
\node[font=\fss] at (axis cs:32.62,0.71) {Total = 3514 earthquakes};

% frequency ranges
\draw[black!65, line width=0.6pt, {Latex[length=6pt,width=4.5pt,black]}-{Latex[length=6pt,width=4.5pt,black]}] (axis cs:37,0.97) -- (axis cs:37,-0.41);
\draw[black!65, line width=0.6pt, {Latex[length=6pt,width=4.5pt,black]}-{Latex[length=6pt,width=4.5pt,black]}] (axis cs:37,-0.43) -- (axis cs:37,-1.24);
\draw[black!65, line width=0.6pt, {Latex[length=6pt,width=4.5pt,black]}-{Latex[length=6pt,width=4.5pt,black]}] (axis cs:37,-1.26) -- (axis cs:37,-3.48);
\node[rotate=90, font=\fs] at (axis cs:38.31,0.28) {Low frequency};
\node[rotate=90, font=\fs] at (axis cs:38.31,-0.87) {Hybrid};
\node[rotate=90, font=\fs] at (axis cs:38.31,-2.64) {High frequency};

% phases
\node[font=\fs, text=black!85] at (axis cs:6.1,-3.4) {Precursory phase};
\node[font=\fs, text=black!85] at (axis cs:19.92,-3.4) {Explosive phase};
\node[font=\fs, text=black!85] at (axis cs:32.59,-3.4) {Continuous phase};

% axis labels
\node[font=\fs, text=black!85] at (axis cs:19.03,-3.79) {DATE, 2006};
\node[rotate=90, font=\fs, text=black!85] at (axis cs:-0.31,-1.17) {FREQUENCY INDEX};
\end{axis}
\end{tikzpicture}
\end{document}
